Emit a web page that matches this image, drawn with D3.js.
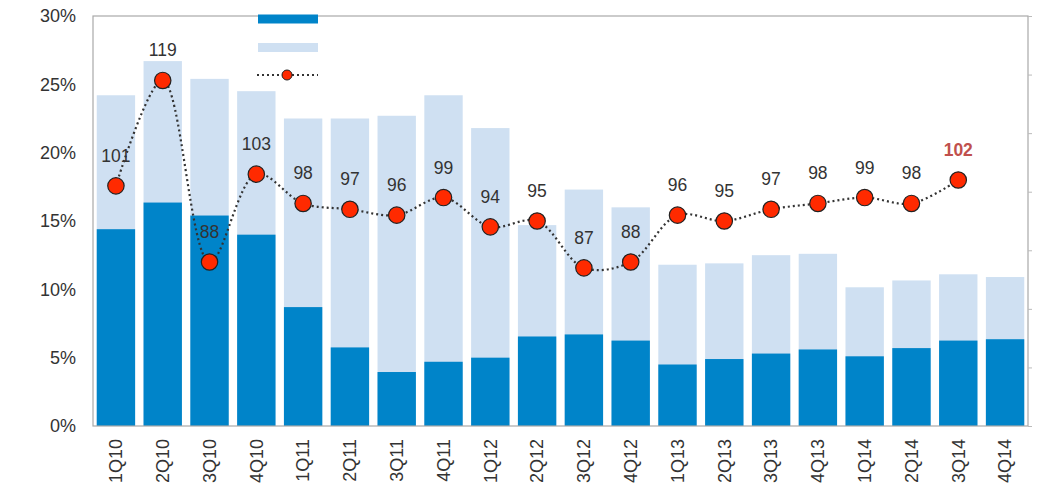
<!DOCTYPE html>
<html lang="en">
  <head>
    <meta charset="utf-8">
    <title>Quarterly share chart</title>
    <script src="https://d3js.org/d3.v7.min.js"></script>
    <style>
      body { margin: 0; background: #fff; }
      text { font-family: "Liberation Sans", Arial, sans-serif; }
    </style>
  </head>

  <body>

    <script>

// Data

  var quarters = ["1Q10","2Q10","3Q10","4Q10","1Q11","2Q11","3Q11","4Q11","1Q12","2Q12",
                  "3Q12","4Q12","1Q13","2Q13","3Q13","4Q13","1Q14","2Q14","3Q14","4Q14"];

  // light bar (total share, %)
  var totalShare = [24.2, 26.7, 25.4, 24.5, 22.5, 22.5, 22.7, 24.2, 21.8, 14.7,
                    17.3, 16.0, 11.8, 11.9, 12.5, 12.6, 10.15, 10.65, 11.1, 10.9];

  // dark bar (share, %)
  var darkShare = [14.4, 16.35, 15.4, 14.0, 8.7, 5.75, 3.95, 4.7, 5.0, 6.55,
                   6.7, 6.25, 4.5, 4.9, 5.3, 5.6, 5.1, 5.7, 6.25, 6.35];

  // index line (right axis), no value for 4Q14
  var indexValues = [101, 119, 88, 103, 98, 97, 96, 99, 94, 95,
                     87, 88, 96, 95, 97, 98, 99, 98, 102, null];

  var leftTicks = [0, 5, 10, 15, 20, 25, 30];
  var rightTicks = [60, 70, 80, 90, 100, 110, 120, 130];

// Layout

  var W = 1039, H = 489;
  var pLeft = 93, pRight = 1028, pTop = 16, pBottom = 426;

  var svg = d3.select("body")
    .append("svg")
      .attr("width", W)
      .attr("height", H);

  var x = d3.scaleBand()
      .domain(quarters)
      .range([pLeft, pRight])
      .paddingInner(0.18)
      .paddingOuter(0.08);

  var y = d3.scaleLinear()
      .domain([0, 30])
      .range([pBottom, pTop]);

  var yR = d3.scaleLinear()
      .domain([60, 130])
      .range([pBottom, pTop]);

// Bars

  svg.append("g").selectAll("rect")
      .data(quarters)
    .enter().append("rect")
      .attr("x", d => x(d))
      .attr("y", (d, i) => y(totalShare[i]))
      .attr("width", x.bandwidth())
      .attr("height", (d, i) => y(0) - y(totalShare[i]))
      .attr("fill", "#cfe0f2");

  svg.append("g").selectAll("rect")
      .data(quarters)
    .enter().append("rect")
      .attr("x", d => x(d))
      .attr("y", (d, i) => y(darkShare[i]))
      .attr("width", x.bandwidth())
      .attr("height", (d, i) => y(0) - y(darkShare[i]))
      .attr("fill", "#0084c9");

// Frame and axes

  svg.append("rect")
      .attr("x", pLeft)
      .attr("y", pTop)
      .attr("width", pRight - pLeft)
      .attr("height", pBottom - pTop)
      .attr("fill", "none")
      .attr("stroke", "#a9a9a9")
      .attr("stroke-width", 1.2);

  var yAxis = svg.append("g")
      .attr("transform", "translate(" + pLeft + ",0)")
      .call(d3.axisLeft(y).tickValues(leftTicks).tickSize(0).tickPadding(17)
              .tickFormat(d => d + "%"));
  yAxis.select(".domain").remove();
  yAxis.selectAll("text")
      .attr("font-size", 18)
      .attr("fill", "#333");

  var rAxis = svg.append("g")
      .attr("transform", "translate(" + pRight + ",0)")
      .call(d3.axisRight(yR).tickValues(rightTicks).tickSize(4).tickFormat(""));
  rAxis.select(".domain").remove();
  rAxis.selectAll("line").attr("stroke", "#bbb");

  var xAxis = svg.append("g")
      .attr("transform", "translate(0," + pBottom + ")")
      .call(d3.axisBottom(x).tickSize(0).tickPadding(0));
  xAxis.select(".domain").remove();
  xAxis.selectAll("text")
      .attr("font-size", 18)
      .attr("fill", "#333")
      .attr("text-anchor", "end")
      .attr("transform", "translate(0,13) rotate(-90)")
      .attr("x", 0)
      .attr("y", 0)
      .attr("dy", "0.35em");

// Index line

  var pts = quarters.map((q, i) => ({ q: q, v: indexValues[i] }))
      .filter(d => d.v != null);

  var line = d3.line()
      .x(d => x(d.q) + x.bandwidth() / 2)
      .y(d => yR(d.v))
      .curve(d3.curveCatmullRom);

  svg.append("path")
      .datum(pts)
      .attr("d", line)
      .attr("fill", "none")
      .attr("stroke", "#333")
      .attr("stroke-width", 2.2)
      .attr("stroke-dasharray", "2,3");

  svg.append("g").selectAll("circle")
      .data(pts)
    .enter().append("circle")
      .attr("cx", d => x(d.q) + x.bandwidth() / 2)
      .attr("cy", d => yR(d.v))
      .attr("r", 8.2)
      .attr("fill", "#ff2a00")
      .attr("stroke", "#222")
      .attr("stroke-width", 1.2);

  var last = pts[pts.length - 1];

  svg.append("g").selectAll("text")
      .data(pts)
    .enter().append("text")
      .attr("x", d => x(d.q) + x.bandwidth() / 2)
      .attr("y", d => yR(d.v) - 24)
      .attr("text-anchor", "middle")
      .attr("font-size", 17.5)
      .attr("font-weight", d => d === last ? "bold" : "normal")
      .attr("fill", d => d === last ? "#c0504d" : "#333")
      .text(d => d.v);

// Legend (swatches only)

  svg.append("rect")
      .attr("x", 258).attr("y", 14.5)
      .attr("width", 60).attr("height", 9)
      .attr("fill", "#0084c9");

  svg.append("rect")
      .attr("x", 258).attr("y", 43)
      .attr("width", 60).attr("height", 9)
      .attr("fill", "#cfe0f2");

  svg.append("line")
      .attr("x1", 257).attr("x2", 318)
      .attr("y1", 75).attr("y2", 75)
      .attr("stroke", "#333")
      .attr("stroke-width", 2.2)
      .attr("stroke-dasharray", "2,3");

  svg.append("circle")
      .attr("cx", 287).attr("cy", 75)
      .attr("r", 5)
      .attr("fill", "#ff2a00")
      .attr("stroke", "#222")
      .attr("stroke-width", 1);

    </script>

  </body>

</html>
